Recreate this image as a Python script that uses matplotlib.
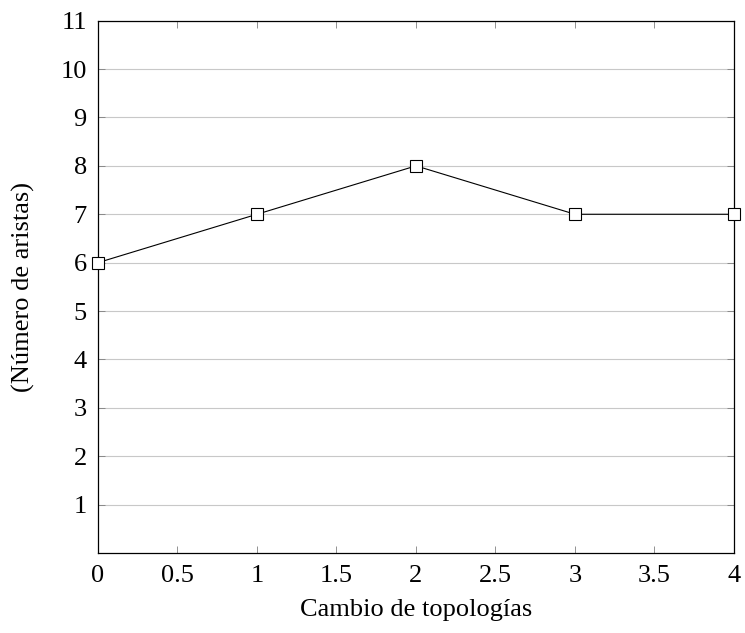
import matplotlib
matplotlib.use('Agg')
import matplotlib.pyplot as plt

# data
cambios = [0, 1, 2, 3, 4]
aristas = [6, 7, 8, 7, 7]
x_ticks = [0, 0.5, 1, 1.5, 2, 2.5, 3, 3.5, 4]
x_labels = ['0', '0.5', '1', '1.5', '2', '2.5', '3', '3.5', '4']
y_ticks = list(range(1, 12))

plt.rcParams['font.family'] = ['Liberation Serif', 'DejaVu Serif']

fig = plt.figure(figsize=(7.45, 6.33), dpi=100)
ax = fig.add_axes([0.1315, 0.1264, 0.8537, 0.8409])

ax.plot(cambios, aristas, color='black', linewidth=0.8, marker='s',
        markersize=8, markerfacecolor='white', markeredgecolor='black',
        markeredgewidth=0.8, clip_on=False, zorder=3)

ax.set_xlim(0, 4)
ax.set_ylim(0, 11)
ax.set_xticks(x_ticks)
ax.set_xticklabels(x_labels)
ax.set_yticks(y_ticks)
ax.yaxis.grid(True, color='#c8c8c8', linewidth=0.8)
ax.set_axisbelow(True)

ax.tick_params(direction='in', length=5, width=0.6, color='#808080',
               labelsize=19, top=True, right=True)
ax.tick_params(axis='x', pad=8.5)
ax.tick_params(axis='y', pad=8)
for s in ax.spines.values():
    s.set_linewidth(0.9)
    s.set_color('black')

ax.set_xlabel('Cambio de topologías', fontsize=19, labelpad=9)
ax.set_ylabel('(Número de aristas)', fontsize=19, labelpad=18)

fig.savefig('out.png', dpi=100)
